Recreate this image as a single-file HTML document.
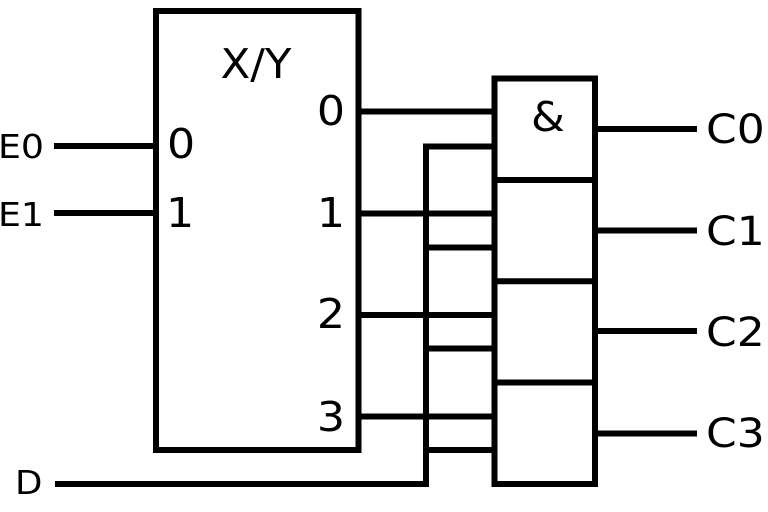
<!DOCTYPE html>
<html>
<head>
<meta charset="utf-8">
<style>
  html, body { margin: 0; padding: 0; background: #fff; }
  svg { display: block; }
  text { font-family: "DejaVu Sans", "Liberation Sans", sans-serif; fill: #000; }
</style>
</head>
<body>
<svg width="768" height="512" viewBox="0 0 768 512" xmlns="http://www.w3.org/2000/svg">
  <rect x="0" y="0" width="768" height="512" fill="#fff"/>
  <g fill="none" stroke="#000" stroke-width="6" stroke-linecap="butt" stroke-linejoin="miter">
    <!-- main box -->
    <rect x="156" y="11" width="202.5" height="439"/>
    <!-- AND box -->
    <rect x="494.5" y="78.5" width="100.5" height="405.5"/>
    <line x1="494.5" y1="180" x2="595" y2="180"/>
    <line x1="494.5" y1="281.3" x2="595" y2="281.3"/>
    <line x1="494.5" y1="382.5" x2="595" y2="382.5"/>
    <!-- inputs -->
    <line x1="54" y1="146" x2="156" y2="146"/>
    <line x1="54" y1="213" x2="156" y2="213"/>
    <!-- D line -->
    <path d="M55,484 H426 V146.5 H494.5"/>
    <line x1="426" y1="247.5" x2="494.5" y2="247.5"/>
    <line x1="426" y1="348.5" x2="494.5" y2="348.5"/>
    <line x1="426" y1="450" x2="494.5" y2="450"/>
    <!-- decoder outputs -->
    <line x1="358.5" y1="111.5" x2="494.5" y2="111.5"/>
    <line x1="358.5" y1="213.5" x2="494.5" y2="213.5"/>
    <line x1="358.5" y1="315" x2="494.5" y2="315"/>
    <line x1="358.5" y1="416.5" x2="494.5" y2="416.5"/>
    <!-- C outputs -->
    <line x1="595" y1="129" x2="697" y2="129"/>
    <line x1="595" y1="230.5" x2="697" y2="230.5"/>
    <line x1="595" y1="331" x2="697" y2="331"/>
    <line x1="595" y1="433.5" x2="697" y2="433.5"/>
  </g>
  <!-- labels -->
  <text transform="translate(256,78) scale(1.06,1)" font-size="41" text-anchor="middle">X/Y</text>
  <text transform="translate(167,158) scale(1.08,1)" font-size="41">0</text>
  <text transform="translate(166,227) scale(1.08,1)" font-size="41">1</text>
  <text transform="translate(345,125) scale(1.08,1)" font-size="41" text-anchor="end">0</text>
  <text transform="translate(345,227) scale(1.08,1)" font-size="41" text-anchor="end">1</text>
  <text transform="translate(345,328) scale(1.08,1)" font-size="41" text-anchor="end">2</text>
  <text transform="translate(345,431) scale(1.08,1)" font-size="41" text-anchor="end">3</text>
  <text transform="translate(548,131) scale(1.06,1)" font-size="41" text-anchor="middle">&amp;</text>
  <text transform="translate(-2,158) scale(1.1,1)" font-size="33">E0</text>
  <text transform="translate(-2,226) scale(1.1,1)" font-size="33">E1</text>
  <text transform="translate(15,494) scale(1.08,1)" font-size="33">D</text>
  <text transform="translate(706,143) scale(1.1,1)" font-size="40">C0</text>
  <text transform="translate(706,245) scale(1.1,1)" font-size="40">C1</text>
  <text transform="translate(706,346) scale(1.1,1)" font-size="40">C2</text>
  <text transform="translate(706,447) scale(1.1,1)" font-size="40">C3</text>
</svg>
</body>
</html>
